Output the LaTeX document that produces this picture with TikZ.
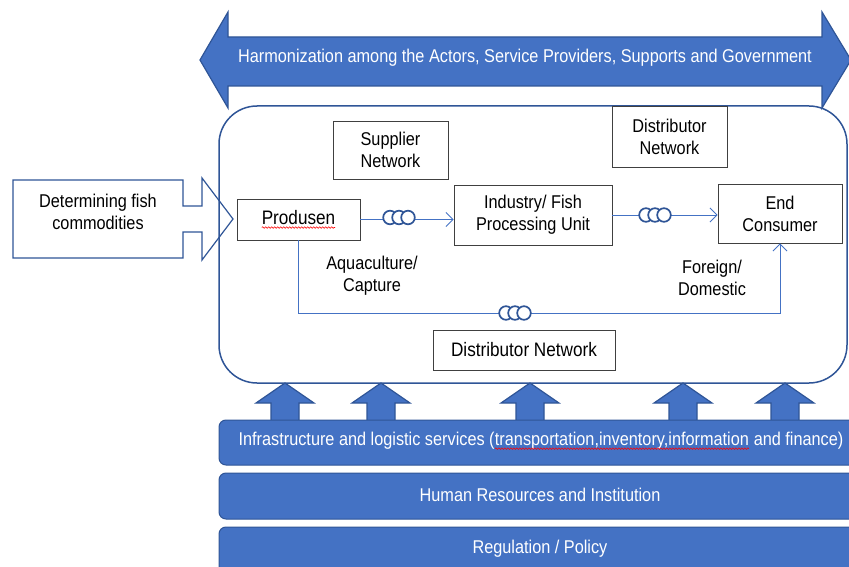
\documentclass[tikz,border=0pt]{standalone}
\usepackage{fontspec}
\setmainfont{Liberation Sans}[FakeStretch=0.88]
\usetikzlibrary{arrows.meta,calc,decorations.pathmorphing}
\definecolor{bfill}{HTML}{4472C4}
\definecolor{bline}{HTML}{2F5597}
\definecolor{boxline}{HTML}{404040}
% red wavy underline as left by a spell checker
\newcommand\spellmark[1]{\tikz[baseline=(w.base)]{\node[inner sep=0pt, outer sep=0pt, minimum width=0pt, minimum height=0pt, draw=none, fill=none] (w) {#1};
  \draw[red, line width=0.6pt, decorate, decoration={snake, amplitude=0.8pt, segment length=3pt}]
    ([yshift=-3pt]w.base west) -- ([yshift=-3pt]w.base east);}}
\tikzset{
  blockarrow/.style={fill=bfill, draw=bline, line width=1.2pt, line join=miter},
  outlinearrow/.style={fill=white, draw=bline, line width=1.2pt},
  frame/.style={draw=bline, line width=1.5pt, rounded corners=38pt},
  stagebox/.style={draw=boxline, line width=0.9pt, fill=white, align=center, inner sep=0pt},
  plain/.style={align=center, inner sep=0pt},
  whitetext/.style={align=center, inner sep=0pt, text=white},
  bigger/.style={font=\fontsize{19.5}{22}\selectfont},
  link/.style={draw=bfill, line width=0.9pt, -{Straight Barb[length=7pt,width=14pt]}},
  bar/.style={fill=bfill, draw=bline, line width=1pt, rounded corners=7pt},
  coil/.pic={
    \foreach \dx in {-9,0,9}
      \draw[draw=bline, line width=1.7pt, fill=white] (\dx,0) circle (6.8);
  },
  uparrow/.pic={
    \draw[blockarrow] (0,0) -- (29,20) -- (14,20) -- (14,42) -- (-14,42) -- (-14,20) -- (-29,20) -- cycle;
  }
}
\begin{document}
\begin{tikzpicture}[x=1pt, y=-1pt, font=\fontsize{18.5}{22}\selectfont]
\useasboundingbox (0,0) rectangle (849,567);

% harmonization double arrow
\draw[blockarrow] (200,60) -- (228,12) -- (228,37) -- (822,37) -- (822,12) -- (851,60)
  -- (822,108) -- (822,86) -- (228,86) -- (228,108) -- cycle;
\node[whitetext] (harm) at (525,58) {Harmonization among the Actors, Service Providers, Supports and Government};

% commodity input arrow
\draw[outlinearrow] (13,180) -- (183,180) -- (183,206) -- (202,206) -- (202,178) -- (233,219)
  -- (202,260) -- (202,232) -- (183,232) -- (183,258) -- (13,258) -- cycle;
\node[plain] (det) at (98,212) {Determining fish\\commodities};

% supply chain frame
\draw[frame] (219,106) rectangle (847,383);

% actors
\node[stagebox, minimum width=115pt, minimum height=58pt] (sup) at (390.5,150) {Supplier\\Network};
\node[stagebox, minimum width=115pt, minimum height=61pt] (dtop) at (669.5,136.5) {Distributor\\Network};
\node[stagebox, bigger, minimum width=123pt, minimum height=41pt] (prod) at (298.5,219.5) {\spellmark{Produsen}};
\node[stagebox, minimum width=158pt, minimum height=60pt] (ind) at (533,215) {Industry/ Fish\\Processing Unit};
\node[stagebox, minimum width=124pt, minimum height=59pt] (endc) at (780,213.5) {End\\Consumer};
\node[stagebox, bigger, minimum width=182pt, minimum height=40pt] (dbot) at (524,350) {Distributor Network};

\node[plain] (aqua) at (372,276) {Aquaculture/\\Capture};
\node[plain] (dest) at (712,278) {Foreign/\\Domestic};

% flows
\draw[link] (prod.east) -- (prod.east -| ind.west);
\pic at (399,217.5) {coil};
\draw[link] (ind.east) -- (ind.east -| endc.west);
\pic at (655,215) {coil};
\draw[link] (prod.south) -- ++(0,73) -| (endc.south);
\pic at (515,313) {coil};

% support arrows
\foreach \ax in {285,381,530,683,785}
  \pic at (\ax,383) {uparrow};

% support layers
\draw[bar] (219,420) rectangle (870,465);
\node[whitetext] (infra) at (541,441) {Infrastructure and logistic services (\spellmark{transportation,inventory,information} and finance)};
\draw[bar] (219,473) rectangle (870,519);
\node[whitetext] (hr) at (540,495) {Human Resources and Institution};
\draw[bar] (219,527) rectangle (870,590);
\node[whitetext] (reg) at (540,549) {Regulation / Policy};
\end{tikzpicture}
\end{document}
